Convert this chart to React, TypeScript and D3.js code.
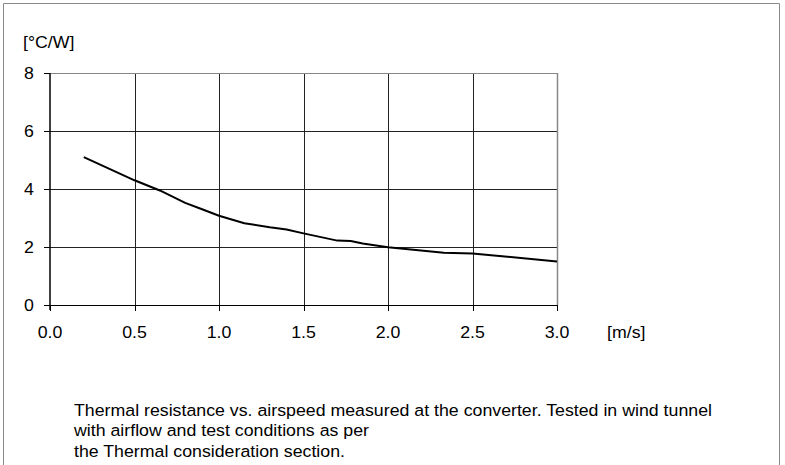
import React from "react";
import * as d3 from "d3";

const airspeed = [0.2, 0.5, 0.65, 0.8, 0.9, 1.0, 1.15, 1.3, 1.4, 1.5, 1.7, 1.78, 1.85, 2.0, 2.33, 2.5, 3.0];
const resistance = [5.1, 4.3, 3.95, 3.52, 3.3, 3.08, 2.82, 2.68, 2.6, 2.47, 2.22, 2.21, 2.12, 1.99, 1.8, 1.78, 1.5];
const xTicks = [0, 0.5, 1.0, 1.5, 2.0, 2.5, 3.0];
const yTicks = [0, 2, 4, 6, 8];
const yUnit = "[°C/W]";
const xUnit = "[m/s]";
const caption = [
  "Thermal resistance vs. airspeed measured at the converter. Tested in wind tunnel",
  "with airflow and test conditions as per",
  "the Thermal consideration section.",
];

const SX = 1.09;
const FS = 16.3;

function T({ x, y, anchor, children }: { x: number; y: number; anchor?: string; children: React.ReactNode }) {
  return (
    <text
      transform={`translate(${x},${y}) scale(${SX},1)`}
      textAnchor={anchor || "start"}
      fontSize={FS}
      fill="#000"
    >
      {children}
    </text>
  );
}

export default function App() {
  const W = 785, H = 465;
  const left = 50, right = 557, top = 73, bottom = 305;
  const x = d3.scaleLinear().domain([0, 3]).range([left, right]);
  const y = d3.scaleLinear().domain([0, 8]).range([bottom, top]);
  const line = d3.line<number>().x((_, i) => x(airspeed[i])).y((d) => y(d));
  const font = "Arial, 'Liberation Sans', sans-serif";
  return (
    <svg width={W} height={H} style={{ position: "absolute", left: 0, top: 0 }} fontFamily={font}>
      <rect width={W} height={H} fill="#fff" />
      <path d={`M3.5,${H}V3.5H779.5V${H}`} fill="none" stroke="#8a8a8a" strokeWidth={1} />
      {xTicks.slice(1, -1).map((t) => (
        <line key={"gx" + t} x1={Math.round(x(t)) + 0.5} x2={Math.round(x(t)) + 0.5} y1={top} y2={bottom} stroke="#222" />
      ))}
      {yTicks.slice(1, -1).map((t) => (
        <line key={"gy" + t} x1={left} x2={right} y1={Math.round(y(t)) + 0.5} y2={Math.round(y(t)) + 0.5} stroke="#222" />
      ))}
      <line x1={left} x2={right} y1={top + 0.5} y2={top + 0.5} stroke="#888" />
      <line x1={right + 0.5} x2={right + 0.5} y1={top} y2={bottom} stroke="#888" strokeWidth={1.5} />
      <line x1={left} x2={left} y1={top} y2={bottom + 5} stroke="#000" strokeWidth={1.5} />
      <line x1={left - 6} x2={right} y1={bottom + 0.5} y2={bottom + 0.5} stroke="#000" strokeWidth={1.2} />
      {yTicks.map((t) => (
        <g key={"ty" + t}>
          <line x1={left - 6} x2={left} y1={Math.round(y(t)) + 0.5} y2={Math.round(y(t)) + 0.5} stroke="#000" />
          <T x={34} y={y(t) + 5.5} anchor="end">{t}</T>
        </g>
      ))}
      {xTicks.map((t) => (
        <g key={"tx" + t}>
          <line x1={Math.round(x(t)) + 0.5} x2={Math.round(x(t)) + 0.5} y1={bottom} y2={bottom + 6} stroke="#000" />
          <T x={x(t)} y={338} anchor="middle">{t.toFixed(1)}</T>
        </g>
      ))}
      <T x={607} y={338}>{xUnit}</T>
      <T x={23} y={47.5}>{yUnit}</T>
      <path d={line(resistance) || ""} fill="none" stroke="#000" strokeWidth={2} />
      {caption.map((c, i) => (
        <T key={i} x={74} y={415.5 + i * 20.6}>{c}</T>
      ))}
    </svg>
  );
}
